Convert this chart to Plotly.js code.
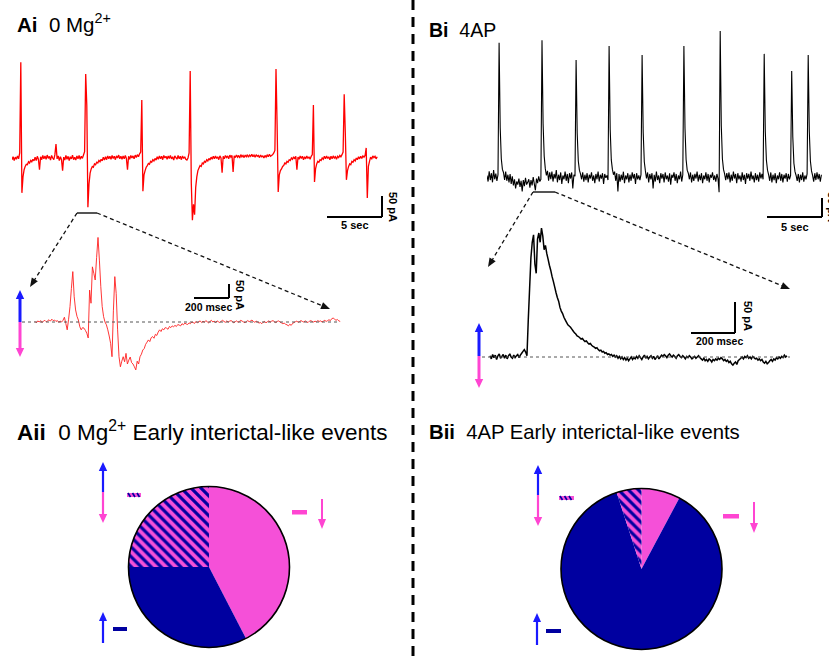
<!DOCTYPE html>
<html><head><meta charset="utf-8">
<script src="https://cdn.plot.ly/plotly-3.0.1.min.js"></script>
<style>html,body{margin:0;padding:0;background:#fff}#chart{width:829px;height:657px}</style>
</head><body><div id="chart"></div>
<script>
const W=829,H=657;
// ---------------- DATA ----------------
// Ai: 0 Mg2+ continuous recording (pA), sampled every aiDt seconds
const aiDt=0.1;
const aiTrace=[
-4,3,-6,2,-3,5,-2,12,228,-83,
-45,-28,-20,-15,-16,-9,-12,-6,-9,-3,
-7,2,-6,4,-3,-28,3,-4,6,-2,
5,-3,7,-1,4,-5,6,0,-4,8,
33,-2,5,-6,3,-4,-30,2,-5,6,
-3,4,-6,3,-2,7,-4,2,-5,5,
-2,6,-3,4,-1,7,15,200,125,-117,
-62,-36,-26,-20,-22,-14,-16,-10,-12,-6,
-9,-3,-7,2,-5,3,-4,5,-2,4,
-3,6,-1,4,-4,5,0,7,-2,4,
-3,5,-2,6,-1,-28,4,-3,6,0,
5,-2,7,1,8,3,10,14,138,-79,
-40,-30,-22,-18,-13,-15,-8,-10,-4,-7,
-1,-5,3,-3,5,-2,4,-4,6,0,
4,-3,5,-1,6,-2,3,-5,5,1,
-3,6,-2,4,-4,5,-1,3,-3,-5,
0,12,207,-60,-148,-110,-135,-70,-45,-30,
-24,-18,-20,-12,-14,-8,-10,-4,-7,-1,
-5,2,-3,4,-2,5,-1,3,-4,5,
0,-35,4,-2,6,1,5,-2,7,2,
6,-33,5,1,7,2,6,0,8,3,
6,1,7,3,8,2,7,4,9,3,
7,2,8,4,6,1,7,3,5,0,
6,2,7,3,9,4,6,8,12,18,
212,80,-81,-40,-30,-26,-20,-18,-12,-14,
-8,-10,-4,-6,0,-3,3,-2,4,-28,
2,-3,5,-1,4,-4,3,-2,5,-1,
3,-3,4,8,126,-57,-25,-14,-8,-10,
-4,-6,0,-3,4,-2,5,-1,3,-4,
4,-2,5,0,3,-3,4,1,6,3,
8,14,152,60,-52,-30,-20,-14,-16,-8,
-10,-4,-7,0,-4,3,-2,4,-1,5,
2,6,24,-95,-20,-8,2,-3,5,1,
4,-2,3];
// Bi: 4AP continuous recording (pA), sampled every biDt seconds
const biDt=0.1;
const biTrace=[
4,-12,15,-8,10,-14,18,-6,9,-10,
6,353,130,48,20,12,-8,14,-10,6,
-14,8,-18,2,-22,-6,-30,-12,-20,-4,
-26,-10,-38,-8,-24,-2,-20,-14,-6,-28,
-8,-22,0,-18,-35,-4,-16,2,-12,-6,
360,140,55,22,4,16,-10,12,-6,14,
-12,8,-4,18,-14,6,-8,12,-18,4,
-6,14,-10,8,-16,10,-4,12,-30,6,
2,308,115,42,18,8,-6,12,-12,6,
-8,10,-14,6,-4,12,-10,4,-16,8,
-6,14,-12,6,-4,10,-18,8,-2,4,
-8,345,125,45,20,6,14,-10,10,-38,
8,-12,6,-8,14,-16,4,-6,10,-14,
6,-10,12,-4,8,-18,10,-6,4,-8,
6,321,118,40,16,-4,12,-14,8,-6,
10,-30,6,-12,14,-8,4,-16,10,-4,
8,-14,12,-6,4,-12,10,-20,6,-2,
12,-10,8,-16,4,-6,14,-12,6,345,
128,46,18,10,-6,12,-14,6,-10,8,
-4,14,-12,6,-8,10,-16,4,-6,12,
-10,8,-14,6,-2,12,-8,4,-12,8,
-4,-40,384,135,48,20,8,-8,10,-6,
12,-14,6,-10,14,-4,8,-16,10,-6,
4,-12,12,-8,6,-18,10,-4,8,-10,
14,-6,4,-14,10,-8,6,-12,12,-4,
8,-6,324,120,44,18,6,-10,12,-14,
6,-8,10,-16,4,-6,12,-10,8,-14,
6,-4,10,-12,8,-6,4,279,105,36,
14,4,-10,8,-14,6,-8,12,-12,4,
-6,8,321,120,42,16,4,-12,10,-8,
12,-6,8,-12,6];
// Expanded early interictal-like event, 0 Mg2+ (pA), every aiZoomDt ms
const aiZoomDt=8;
const aiZoom=[
2,-3,4,0,5,-2,3,6,1,4,
8,3,10,5,7,2,5,-1,3,0,
6,17,-5,-28,10,55,120,180,90,43,
20,7,-17,-28,-20,-22,-30,-40,-57,114,
67,197,174,150,230,302,221,126,55,19,
0,-10,-28,-50,-76,-124,40,162,102,-28,
-124,-160,-140,-124,-142,-112,-150,-136,-125,-145,
-150,-160,-171,-140,-150,-124,-115,-100,-95,-80,
-72,-64,-70,-56,-52,-58,-44,-48,-36,-28,
-34,-24,-28,-20,-22,-26,-16,-20,-14,-17,
-12,-16,-9,-11,-14,-6,-10,-4,-7,-9,
-3,-6,0,-2,-5,2,-3,1,4,-2,
3,-1,5,1,-3,2,6,0,3,-2,
4,1,-2,3,6,2,-1,4,0,3,
5,2,-3,1,4,-1,2,6,3,0,
-3,2,5,1,4,7,2,-1,3,0,
-4,-2,-6,-1,2,-3,1,4,0,3,
5,1,-2,2,4,0,-3,-6,-4,-8,
-10,-14,-8,-12,-5,-2,1,3,-1,2,
5,2,0,4,1,-2,3,5,2,0,
3,1,5,2,4,0,3,6,2,5,
8,5,12,14,10,6,9,4,2];
// Expanded early interictal-like event, 4AP (pA), every biZoomDt ms
const biZoomDt=6;
const biZoom=[
2,-3,4,-1,3,-4,2,5,-2,1,
4,-2,3,-3,2,5,0,-2,3,-1,
2,4,-1,3,6,9,12,8,2,60,
110,160,185,197,150,135,190,200,185,208,
195,173,180,167,158,148,140,130,122,113,
104,96,90,80,74,70,64,60,56,52,
50,48,45,42,39,37,34,33,31,29,
30,27,25,26,23,21,22,19,17,16,
14,15,12,10,11,8,9,6,7,4,
5,3,4,1,3,0,2,-2,1,-3,
0,-4,-1,-5,-2,-6,-3,0,-4,-1,
-3,1,-2,2,-1,-4,0,3,-2,1,
-3,0,2,-2,1,-4,-1,2,-3,0,
3,1,4,2,-1,3,5,2,0,3,
1,-2,2,4,1,-1,2,0,-3,1,
-1,2,0,-3,-1,1,-2,0,2,-1,
-3,-5,-2,-6,-4,-7,-3,-5,-8,-4,
-6,-3,-5,-2,-4,-1,-3,-6,-4,-7,
-5,-9,-7,-11,-13,-10,-8,-12,-6,-4,
-2,0,-3,1,-1,2,-2,0,-3,1,
-1,-3,-2,-5,-3,-6,-4,-8,-10,-7,
-11,-9,-6,-4,-7,-3,-5,-1,-3,0,
-2,1,-1,3,0,2];
// Pie charts: proportion of early interictal-like events (%)
const pieLabels=['Inward only','Outward only','Outward + inward'];
const pieA=[42.4,32.6,25.0];
const pieB=[7.8,87.2,5.0];
// scale-bar sizes
const longBarSec=5, zoomBarMs=200, barPA=50;

// ---------------- STYLE / GEOMETRY ----------------
const PINK='#f550d8', DBLUE='#0000a0', ABLUE='#1a1aff', APINK='#ff45d2';
const FONT='Liberation Sans, Arial, sans-serif';
const PX=x=>x/W, PY=y=>1-y/H;
// pixel calibration of each panel: px = ox + sx*t ; py = oy - sy*v
const cal={
  a:{ox:12,sx:11,oy:158,sy:0.42,dom:[12,397,40,232]},
  b:{ox:487,sx:11,oy:177,sy:0.38,dom:[487,826,20,240]},
  az:{ox:35,sx:0.175,oy:322,sy:0.28,dom:[20,345,225,380]},
  bz:{ox:490,sx:0.22,oy:357,sy:0.62,dom:[475,800,215,395]}
};
function axes(c){
  const [x0,x1,y0,y1]=c.dom;
  return {
    x:{domain:[PX(x0),PX(x1)],range:[(x0-c.ox)/c.sx,(x1-c.ox)/c.sx],visible:false,fixedrange:true},
    y:{domain:[PY(y1),PY(y0)],range:[(c.oy-y1)/c.sy,(c.oy-y0)/c.sy],visible:false,fixedrange:true}
  };
}
const tX=(c,px)=>(px-c.ox)/c.sx, tY=(c,py)=>(c.oy-py)/c.sy;

const shapes=[], ann=[];
function pline(x0,y0,x1,y1,color,width,dash){
  shapes.push({type:'line',xref:'paper',yref:'paper',x0:PX(x0),y0:PY(y0),x1:PX(x1),y1:PY(y1),line:{color:color,width:width,dash:dash||'solid'}});
}
function prect(x0,y0,x1,y1,color){
  shapes.push({type:'rect',xref:'paper',yref:'paper',x0:PX(x0),y0:PY(y0),x1:PX(x1),y1:PY(y1),fillcolor:color,line:{width:0}});
}
function parrow(x0,y0,x1,y1,color,width,hl,hw,dash){
  const dx=x1-x0,dy=y1-y0,L=Math.hypot(dx,dy),ux=dx/L,uy=dy/L;
  const bx=x1-ux*hl,by=y1-uy*hl,nx=-uy,ny=ux;
  pline(x0,y0,x1-ux*hl*0.8,y1-uy*hl*0.8,color,width,dash);
  shapes.push({type:'path',xref:'paper',yref:'paper',
    path:`M${PX(x1)},${PY(y1)} L${PX(bx+nx*hw)},${PY(by+ny*hw)} L${PX(bx-nx*hw)},${PY(by-ny*hw)} Z`,
    fillcolor:color,line:{width:0}});
}
function txt(x,y,text,size,opt){
  ann.push(Object.assign({xref:'paper',yref:'paper',x:PX(x),y:PY(y),text:text,showarrow:false,
    xanchor:'left',yanchor:'middle',font:{family:FONT,size:size,color:'#000'}},opt||{}));
}
// scale bars in data coordinates
function scaleBar(xr,yr,c,cornerPx,cornerPy,dt,dv){
  const tc=tX(c,cornerPx), vc=tY(c,cornerPy);
  shapes.push({type:'line',xref:xr,yref:yr,x0:tc-dt,x1:tc,y0:vc,y1:vc,line:{color:'#000',width:2}});
  shapes.push({type:'line',xref:xr,yref:yr,x0:tc,x1:tc,y0:vc,y1:vc+dv,line:{color:'#000',width:2}});
}
scaleBar('x','y',cal.a,382,217,longBarSec,barPA);
scaleBar('x2','y2',cal.b,822,217,longBarSec,barPA);
scaleBar('x3','y3',cal.az,229,298,zoomBarMs,barPA);
scaleBar('x4','y4',cal.bz,735,333,zoomBarMs,barPA);
// dotted baselines of expanded traces
shapes.push({type:'line',xref:'x3',yref:'y3',x0:tX(cal.az,22),x1:tX(cal.az,340),y0:0,y1:0,line:{color:'#555',width:1,dash:'dot'}});
shapes.push({type:'line',xref:'x4',yref:'y4',x0:tX(cal.bz,482),x1:tX(cal.bz,790),y0:0,y1:0,line:{color:'#555',width:1,dash:'dot'}});
// expanded-window markers
pline(77,213,97,213,'#555',2);
pline(533,192,555,192,'#555',2);
parrow(77,213,30,287,'#111',1.3,9,3.6,'4px,3px');
parrow(97,213,330,309,'#111',1.3,9,3.6,'4px,3px');
parrow(533,192,488,267,'#111',1.3,9,3.6,'4px,3px');
parrow(555,192,790,289,'#111',1.3,9,3.6,'4px,3px');
// panel separator
pline(413,0,413,657,'#000',3,'10px,7px');
// up/down arrows next to expanded traces
function updown(x,top,mid,bot,w){
  parrow(x,mid,x,top,ABLUE,w,9,4.2);
  parrow(x,mid,x,bot,APINK,w,9,4.2);
}
updown(20,290,322,357,3);
updown(479,323,356,388,3);
// pie legend icons
function hatchDash(x0,y,x1){
  prect(x0,y-2,x1,y+2,PINK);
  for(let x=x0+1;x<x1-2;x+=4.5) pline(x,y-2,x+2.5,y+2,DBLUE,1.6);
}
updown(103,462,492,523,2.2);
hatchDash(127,495,141);
prect(292,510,307,514.5,APINK);
parrow(322,499,322,529,APINK,2,10,4);
parrow(103,643,103,612,ABLUE,2.2,9,4);
prect(113,627,127,631,DBLUE);

updown(538,465,495,526,2.2);
hatchDash(559,498,574);
prect(723,514,739,518.5,APINK);
parrow(754,502,754,533,APINK,2,10,4);
parrow(537,645,537,613,ABLUE,2.2,9,4);
prect(546,629,561,633,DBLUE);

// pies geometry
const pies=[{cx:209,cy:567,r:80.5,vals:pieA},{cx:641.5,cy:569,r:80.5,vals:pieB}];
pies.forEach(p=>{
  shapes.push({type:'circle',xref:'paper',yref:'paper',x0:PX(p.cx-p.r),x1:PX(p.cx+p.r),y0:PY(p.cy+p.r),y1:PY(p.cy-p.r),line:{color:'#000',width:1.6}});
});

// titles
const NB='\u00a0';
txt(15,23,'<b>Ai</b>'+NB+NB+'0 Mg<sup>2+</sup>',20.5);
txt(427,30,'<b>Bi</b>'+NB+NB+'4AP',19.5);
txt(15,431,'<b>Aii</b>'+NB+NB+'0 Mg<sup>2+</sup> Early interictal-like events',22.5);
txt(427,432,'<b>Bii</b>'+NB+NB+'4AP Early interictal-like events',20.3);
// scale labels
txt(355,225,'<b>5 sec</b>',11,{xanchor:'center'});
txt(795,227,'<b>5 sec</b>',11,{xanchor:'center'});
txt(393,207,'<b>50 pA</b>',11,{xanchor:'center',textangle:90});
txt(832,207,'<b>50 pA</b>',11,{xanchor:'center',textangle:90});
txt(208,307,'<b>200'+NB+'msec</b>',10.5,{xanchor:'center'});
txt(240,295,'<b>50 pA</b>',11,{xanchor:'center',textangle:90});
txt(719,341,'<b>200 msec</b>',10.5,{xanchor:'center'});
txt(748,316,'<b>50 pA</b>',11,{xanchor:'center',textangle:90});

// ---------------- TRACES ----------------
const data=[
 {type:'scatter',mode:'lines',y:aiTrace,x0:0,dx:aiDt,xaxis:'x',yaxis:'y',line:{color:'#ff0000',width:1.3,simplify:false},hoverinfo:'skip'},
 {type:'scatter',mode:'lines',y:biTrace,x0:0,dx:biDt,xaxis:'x2',yaxis:'y2',line:{color:'#000',width:1.1,simplify:false},hoverinfo:'skip'},
 {type:'scatter',mode:'lines',y:aiZoom,x0:0,dx:aiZoomDt,xaxis:'x3',yaxis:'y3',line:{color:'#ff2020',width:0.9,simplify:false},hoverinfo:'skip'},
 {type:'scatter',mode:'lines',y:biZoom,x0:0,dx:biZoomDt,xaxis:'x4',yaxis:'y4',line:{color:'#000',width:1.5,simplify:false},hoverinfo:'skip'}
];
pies.forEach(p=>{
  data.push({type:'pie',labels:pieLabels,values:p.vals,sort:false,direction:'clockwise',rotation:0,
    domain:{x:[PX(p.cx-p.r),PX(p.cx+p.r)],y:[PY(p.cy+p.r),PY(p.cy-p.r)]},
    marker:{colors:[PINK,DBLUE,PINK],line:{width:0},
      pattern:{shape:['','','\\'],fgcolor:DBLUE,bgcolor:PINK,size:7,solidity:0.45,fillmode:'replace'}},
    textinfo:'none',hoverinfo:'skip',showlegend:false});
});

const A={a:axes(cal.a),b:axes(cal.b),az:axes(cal.az),bz:axes(cal.bz)};
const layout={
  width:W,height:H,margin:{l:0,r:0,t:0,b:0},paper_bgcolor:'#fff',plot_bgcolor:'rgba(0,0,0,0)',
  showlegend:false,
  xaxis:A.a.x,yaxis:A.a.y,
  xaxis2:Object.assign({anchor:'y2'},A.b.x),yaxis2:Object.assign({anchor:'x2'},A.b.y),
  xaxis3:Object.assign({anchor:'y3'},A.az.x),yaxis3:Object.assign({anchor:'x3'},A.az.y),
  xaxis4:Object.assign({anchor:'y4'},A.bz.x),yaxis4:Object.assign({anchor:'x4'},A.bz.y),
  shapes:shapes,annotations:ann
};
Plotly.newPlot('chart',data,layout,{staticPlot:true,displayModeBar:false});
</script></body></html>
